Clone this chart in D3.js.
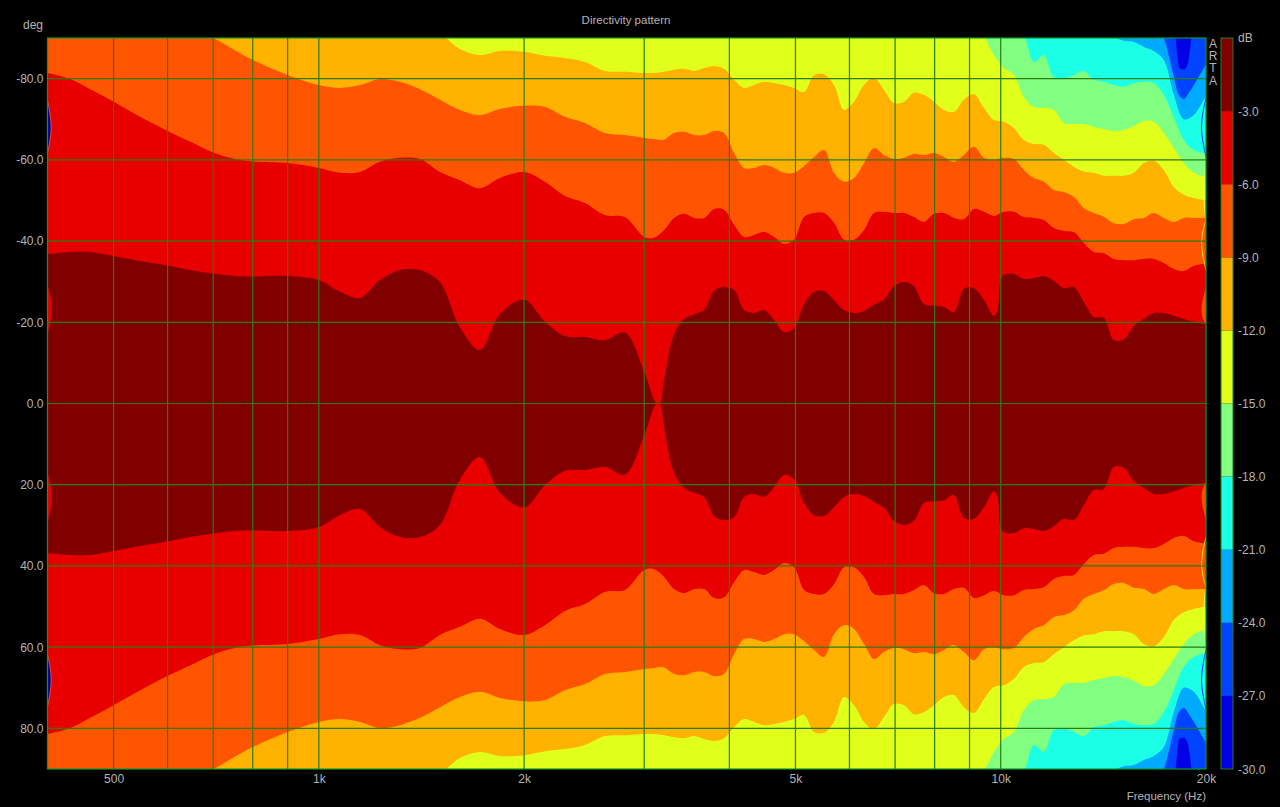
<!DOCTYPE html>
<html><head><meta charset="utf-8">
<style>html,body{margin:0;padding:0;background:#000;overflow:hidden}svg{display:block}text{font-family:"Liberation Sans",Arial,sans-serif;font-size:12px;fill:#b4b4b4}</style>
<script src="https://cdn.jsdelivr.net/npm/d3@7/dist/d3.min.js"></script>
</head><body><svg id="c" width="1280" height="807"></svg>
<script>
// Frequency grid (Hz) shared by the contours
const freqs=[400,432,462,500,547,600,647,700,753,800,900,1000,1074,1149,1229,1315,1407,1505,1610,1723,1843,2000,2146,2295,2456,2628,2811,3000,3103,3209,3319,3433,3551,3673,3799,3929,4064,4204,4348,4497,4651,4811,4976,5147,5324,5506,5695,5891,6093,6302,6518,6742,6973,7213,7460,7716,7981,8255,8538,8831,9134,9448,9772,10108,10455,10813,11184,11568,11965,12376,12801,13240,13695,14165,14651,15154,15674,16212,16768,17344,17939,18555,19192,19851,20000];
// Off-axis angle (deg) of each level contour at these frequencies; the pattern is mirrored about 0 deg
const contourM6=[81.4,79.9,77.4,74.3,70.6,67.1,64.5,61.8,60.2,59.6,59.2,58,56.8,57,59.5,60.5,60.2,57,55,53,55.5,57,54.6,51.1,49.4,46.4,45.9,41,40.8,42.7,45.7,46.7,45.7,45.7,47.9,47.7,44,41,41.5,42.2,41,39.3,40.3,45.9,46.9,46.9,44.5,40.3,40.3,42.7,46.9,47.2,46.9,46.9,45.9,44.7,46.7,46.9,45.7,45.4,47.9,47.2,46.2,47.2,47.2,45.9,45.7,45.2,43.2,42.5,42.2,39.5,37.3,37,35.6,35.3,35.3,35.6,35.6,34.6,33.1,32.6,33.9,34.4,34.4];
const contourM9=[93,93,93,93,93,93,92,90,87,84.6,80.9,78.4,77.7,78.4,79.9,79.2,77.4,74.8,72.3,71,72.5,73.3,73,70.6,69.1,66.6,66.1,65.4,65.1,65,66.6,66.9,66.1,66.1,67.1,66.6,61.7,58,58,58.7,58,56.8,56.8,58.5,60.7,62.4,56.8,54.6,55.5,59.2,62.9,61.2,60.2,60.5,61.5,61.2,61.7,60.7,59.5,61.2,63.2,60.5,60,60.5,60.2,57.5,55.5,54.6,52.6,52.1,50.9,48.1,46.9,46,44.4,44.2,45.4,45.7,46.9,45.7,44.7,45.7,45.7,45.7,45.7];
const contourM12=[93,93,93,93,93,93,93,93,93,93,93,93,93,93,93,93,92,91,87.3,85.8,86.8,86.6,85.6,85.1,84.1,81.9,81.7,81.4,81.4,81.7,82.2,82.4,81.9,82.6,83.1,82.4,79.7,77.7,78.4,79.2,78.9,78.4,77.7,76.7,80.9,81.1,78.4,72.3,74.3,78.4,80.2,77.2,74,74.3,76.5,76,74.3,72.3,71.8,74.8,76.2,72.8,69.8,69.4,67.8,64.9,63.9,63.7,61.7,60,58.3,57.1,56.8,56.1,56.1,56.1,56.8,59.2,59.8,57.5,53.3,51.4,50.6,50.1,50.1];
const contourM15=[93,93,93,93,93,93,93,93,93,93,93,93,93,93,93,93,93,93,93,93,93,93,93,93,93,93,93,93,93,93,93,93,93,93,93,93,93,93,93,93,93,93,93,93,93,93,93,93,93,93,93,93,93,93,93,93,93,93,93,93,92,90.3,85.8,82.6,80.9,75.5,73,72.8,72.3,69.1,68.8,68.8,68.1,67.6,67.1,67.4,68.3,69.6,69.4,66.6,62.9,59.2,56.8,55.9,55.9];
const contourM18=[93,93,93,93,93,93,93,93,93,93,93,93,93,93,93,93,93,93,93,93,93,93,93,93,93,93,93,93,93,93,93,93,93,93,93,93,93,93,93,93,93,93,93,93,93,93,93,93,93,93,93,93,93,93,93,93,93,93,93,93,93,93,93,93,92,90.5,84.1,85.8,80.4,80.1,80.9,81.9,79.7,79.2,78.4,78,78.9,79.2,78.9,76,70.6,64.9,62.4,61.7,61.7];
// The -3 dB contour has its own grid, with extra points at the pinch near 3.1 kHz and the step at 10 kHz
const freqM3=[400,432,462,500,547,600,647,700,753,800,900,1000,1074,1149,1229,1315,1407,1505,1610,1723,1843,2000,2146,2295,2456,2628,2811,3000,3103,3130,3162,3209,3319,3433,3551,3673,3799,3929,4064,4204,4348,4497,4651,4811,4976,5147,5324,5506,5695,5891,6093,6302,6518,6742,6973,7213,7460,7716,7981,8255,8538,8831,9134,9448,9772,9890,9990,10108,10455,10813,11184,11568,11965,12376,12801,13240,13695,14165,14651,15154,15674,16212,16768,17344,17939,18555,19192,19851,20000];
const contourM3=[36.8,37.3,37.3,36.3,35.1,34,32.9,32,31.4,31.3,31.4,30.4,27.5,26,30.4,32.9,32.9,29.9,18.8,13.2,22,25.6,20.1,16.6,16.4,15.6,17.5,7.8,0.9,0,0,5.8,17.1,20.8,22,23,27.7,28.7,28,23,22.3,23,20.6,17.6,18.6,24.5,27.5,27.7,25.5,23,22.3,22.8,24.3,25.7,28.9,29.9,28.9,24.5,24.1,23.8,22.5,28.2,28.4,25.5,21.6,22.8,30.2,31.7,31.9,30.7,30.9,31.4,30.2,28.4,28.7,25,21.3,21.1,15.6,15.8,19.1,20.8,22.3,22.3,21.6,20.8,20.1,19.6,19.6];
// Closed blobs near 20 kHz
const freqM21=[400,14165,14651,15154,15674,16212,16768,17344,17939,18555,19192,19851,20000];
const contourM21=[93,92,90.3,89.3,89,87.8,86.8,84.6,76,70,71,74.8,75.5];
const freqM24=[400,17000,17344,17650,17939,18250,18555,18700,19050,19450,19851,20000];
const contourM24=[93,92,90,85.5,80.5,76,74.9,75.5,77.5,80,82.6,83.4];
const freqM27=[400,17900,18040,18160,18300,18470,18600,18790,18950,19050,19300,20000];
const contourM27=[93,92,90,85.5,82.5,82.3,82.3,83.5,87,90,92,93];
// Thin artefacts at the plot edges: [frequency at the edge / bulge, angles top-mid-bottom]
const lensFill=[{f:[400,405,400],a:[74.7,68,61.7],c:"#0000a8",s:"#ff7a1a"},{f:[400,406,400],a:[29.4,23.2,16.9],c:"#e80000",s:"none"},{f:[20000,19700,20000],a:[28.7,23,19.3],c:"#ff5500",s:"none"}];
const lensLine=[{f:[20000,19700,20000],a:[75.2,68.1,60.7],c:"#0044ff"},{f:[20000,19850,20000],a:[60,52,45.2],c:"#d8ff60"},{f:[20000,19700,20000],a:[45.2,39.5,32.9],c:"#ffe000"}];
// Colour levels
const levelEdges=[-30,-27,-24,-21,-18,-15,-12,-9,-6,-3,0];
const levelColors=["#0000e6","#0044ff","#00aaff","#1affe6","#80ff80","#e0ff1a","#ffb300","#ff5500","#e80000","#800000"];
const contours=[[freqM27,contourM27,1],[freqM24,contourM24,2],[freqM21,contourM21,3],[freqs,contourM18,4],[freqs,contourM15,5],[freqs,contourM12,6],[freqs,contourM9,7],[freqs,contourM6,8],[freqM3,contourM3,9]];
// Axes
const angleTicks=[-80,-60,-40,-20,0,20,40,60,80];
const freqGrid=[500,600,700,800,900,1000,2000,3000,4000,5000,6000,7000,8000,9000,10000];
const freqTicks=[500,1000,2000,5000,10000,20000];
const freqTickLabels=["500","1k","2k","5k","10k","20k"];
const arta=["A","R","T","A"];

const svg=d3.select("#c");
const L=47.5,R=1206,T=38,B=769,GRID="#2a7d14";
const x=d3.scaleLog().domain([400,20000]).range([L,R]);
const y=d3.scaleLinear().domain([-90,90]).range([T,B]);
const cb=d3.scaleLinear().domain([-30,0]).range([B,T]);
svg.append("defs").append("clipPath").attr("id","p").append("rect").attr("x",L).attr("y",T).attr("width",R-L).attr("height",B-T);
const plot=svg.append("g").attr("clip-path","url(#p)");
plot.append("rect").attr("x",L).attr("y",T).attr("width",R-L).attr("height",B-T).attr("fill",levelColors[0]);
const area=d3.area().x(d=>x(d[0])).y0(d=>y(-d[1])).y1(d=>y(d[1])).curve(d3.curveCatmullRom.alpha(0.5));
contours.forEach(([f,a,ci])=>{
  plot.append("path").attr("d",area(f.map((v,i)=>[v,a[i]]))).attr("fill",levelColors[ci]);
});
const lens=d3.line().x(d=>x(d[0])).y(d=>y(d[1])).curve(d3.curveNatural);
[1,-1].forEach(sg=>{
  lensFill.forEach(l=>plot.append("path").attr("d",lens(l.f.map((v,i)=>[v,sg*l.a[i]]))+"Z").attr("fill",l.c).attr("stroke",l.s).attr("stroke-width",.7));
  lensLine.forEach(l=>plot.append("path").attr("d",lens(l.f.map((v,i)=>[v,sg*l.a[i]]))).attr("fill","none").attr("stroke",l.c).attr("stroke-width",1));
});
// grid
const g=svg.append("g").attr("stroke",GRID).attr("stroke-width",1.2).attr("fill","none");
angleTicks.forEach(a=>g.append("line").attr("x1",L).attr("x2",R).attr("y1",y(a)).attr("y2",y(a)));
freqGrid.forEach(f=>g.append("line").attr("y1",T).attr("y2",B).attr("x1",x(f)).attr("x2",x(f)));
g.append("rect").attr("x",L).attr("y",T).attr("width",R-L).attr("height",B-T).attr("stroke","#0a9a30");
// axis labels
const yAxis=d3.axisLeft(y).tickValues(angleTicks).tickFormat(d=>d.toFixed(1)).tickSize(0).tickPadding(4);
svg.append("g").attr("transform",`translate(${L},0)`).call(yAxis).call(s=>s.select(".domain").remove()).call(s=>s.selectAll("text").attr("font-family",null).attr("font-size",null).attr("fill",null));
const xAxis=d3.axisBottom(x).tickValues(freqTicks).tickFormat((d,i)=>freqTickLabels[i]).tickSize(0).tickPadding(5);
svg.append("g").attr("transform",`translate(0,${B})`).call(xAxis).call(s=>s.select(".domain").remove()).call(s=>s.selectAll("text").attr("font-family",null).attr("font-size",null).attr("fill",null));
svg.append("text").attr("x",626).attr("y",24).attr("text-anchor","middle").style("font-size","11.5px").text("Directivity pattern");
svg.append("text").attr("x",43).attr("y",29).attr("text-anchor","end").text("deg");
svg.append("text").attr("x",1206).attr("y",800).attr("text-anchor","end").style("font-size","11.5px").text("Frequency (Hz)");
arta.forEach((c,i)=>svg.append("text").attr("x",1213).attr("y",48+i*12.2).attr("text-anchor","middle").text(c));
// colour bar
d3.range(levelColors.length).forEach(i=>svg.append("rect").attr("x",1221).attr("width",12).attr("y",cb(levelEdges[i+1])).attr("height",cb(levelEdges[i])-cb(levelEdges[i+1])).attr("fill",levelColors[i]));
svg.append("rect").attr("x",1221).attr("y",T).attr("width",12).attr("height",B-T).attr("fill","none").attr("stroke",GRID);
levelEdges.slice(0,-1).forEach(v=>svg.append("text").attr("x",1238).attr("y",cb(v)+4.5).text(v.toFixed(1)));
svg.append("text").attr("x",1238).attr("y",42).text("dB");
</script></body></html>
